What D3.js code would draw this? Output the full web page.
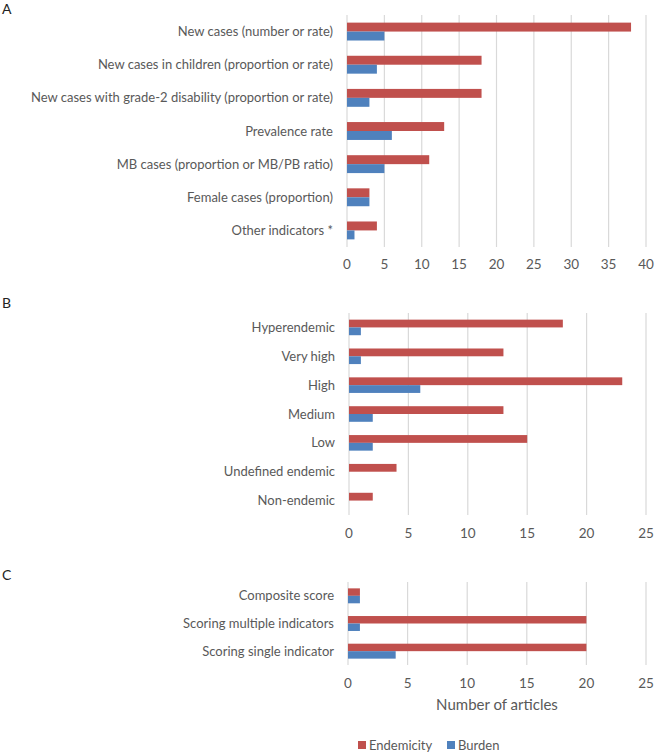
<!DOCTYPE html>
<html>
<head>
<meta charset="utf-8">
<script src="https://cdn.jsdelivr.net/npm/d3@7"></script>
<style>
  body { margin: 0; background: #fff; }
  text { font-family: Lato, "Open Sans", sans-serif; }
</style>
</head>
<body>
<script>
// panel A - indicators
const catsA = ["New cases (number or rate)", "New cases in children (proportion or rate)",
  "New cases with grade-2 disability (proportion or rate)", "Prevalence rate",
  "MB cases (proportion or MB/PB ratio)", "Female cases (proportion)", "Other indicators *"];
const endemA = [38, 18, 18, 13, 11, 3, 4];
const burdenA = [5, 4, 3, 6, 5, 3, 1];
const ticksA = [0, 5, 10, 15, 20, 25, 30, 35, 40];

// panel B - endemicity levels
const catsB = ["Hyperendemic", "Very high", "High", "Medium", "Low", "Undefined endemic", "Non-endemic"];
const endemB = [18, 13, 23, 13, 15, 4, 2];
const burdenB = [1, 1, 6, 2, 2, 0, 0];
const ticksB = [0, 5, 10, 15, 20, 25];

// panel C - scoring
const catsC = ["Composite score", "Scoring multiple indicators", "Scoring single indicator"];
const endemC = [1, 20, 20];
const burdenC = [1, 1, 4];
const ticksC = [0, 5, 10, 15, 20, 25];

const series = ["Endemicity", "Burden"];
const colors = {Endemicity: "#C0504D", Burden: "#4F81BD"};

const svg = d3.select("body").append("svg")
  .attr("width", 655).attr("height", 752);

function panel(letter, letterY, cats, endem, burden, ticks, left, right, top, bottom, tickY) {
  const x = d3.scaleLinear().domain([ticks[0], ticks[ticks.length - 1]]).range([left, right]);
  const y = d3.scaleBand().domain(cats).range([top, bottom]).paddingInner(0.46).paddingOuter(0.23);
  const sub = d3.scaleBand().domain(series).range([0, y.bandwidth()]);

  svg.append("text").attr("x", 2).attr("y", letterY).attr("dy", "0.35em")
    .attr("font-size", 14).attr("fill", "#222").text(letter);

  // gridlines
  svg.append("g").selectAll("line").data(ticks).enter().append("line")
    .attr("x1", d => x(d)).attr("x2", d => x(d))
    .attr("y1", top).attr("y2", bottom)
    .attr("stroke", "#d9d9d9").attr("stroke-width", 1.2);

  // tick labels
  svg.append("g").selectAll("text").data(ticks).enter().append("text")
    .attr("x", d => x(d)).attr("y", tickY).attr("dy", "0.35em")
    .attr("text-anchor", "middle").attr("font-size", 13.5).attr("fill", "#595959")
    .text(d => d);

  // category labels
  svg.append("g").selectAll("text").data(cats).enter().append("text")
    .attr("x", left - 14).attr("y", d => y(d) + y.bandwidth() / 2).attr("dy", "0.35em")
    .attr("text-anchor", "end").attr("font-size", 13).attr("fill", "#595959")
    .text(d => d);

  const rows = cats.map((c, i) => ({cat: c, Endemicity: endem[i], Burden: burden[i]}));
  const g = svg.append("g").selectAll("g").data(rows).enter().append("g")
    .attr("transform", d => "translate(0," + y(d.cat) + ")");
  g.selectAll("rect").data(d => series.map(s => ({s: s, v: d[s]}))).enter().append("rect")
    .attr("x", x(0))
    .attr("y", d => sub(d.s))
    .attr("width", d => x(d.v) - x(0))
    .attr("height", sub.bandwidth())
    .attr("fill", d => colors[d.s]);
}

panel("A", 9, catsA, endemA, burdenA, ticksA, 347, 646, 15, 247, 264);
panel("B", 303, catsB, endemB, burdenB, ticksB, 349, 646, 313, 515, 533);
panel("C", 575, catsC, endemC, burdenC, ticksC, 348, 646, 582, 665, 683);

// axis title
svg.append("text").attr("x", 497).attr("y", 705).attr("dy", "0.35em")
  .attr("text-anchor", "middle").attr("font-size", 15).attr("fill", "#595959")
  .text("Number of articles");

// legend
const leg = svg.append("g").selectAll("g").data(series).enter().append("g")
  .attr("transform", (d, i) => "translate(" + (358 + i * 89) + ",745)");
leg.append("rect").attr("x", 0).attr("y", -4).attr("width", 8).attr("height", 8)
  .attr("fill", d => colors[d]);
leg.append("text").attr("x", 11).attr("y", 0).attr("dy", "0.35em")
  .attr("font-size", 13).attr("fill", "#595959").text(d => d);
</script>
</body>
</html>
